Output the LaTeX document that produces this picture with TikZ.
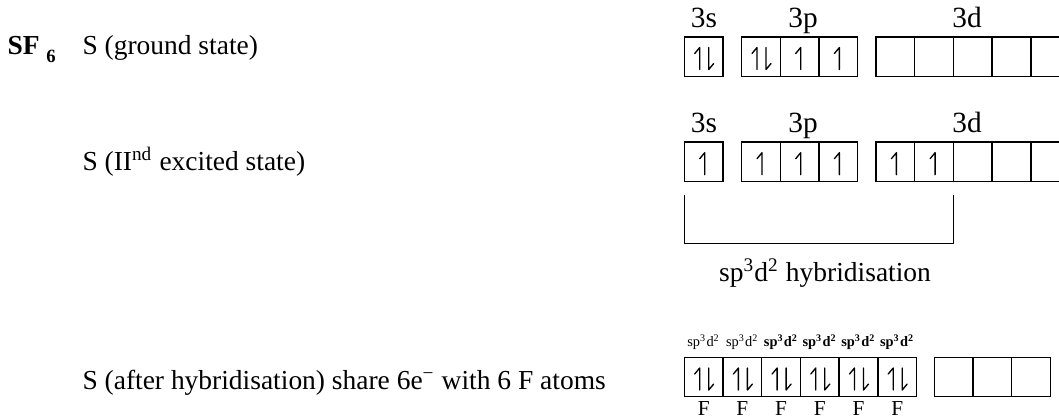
\documentclass[tikz,border=0pt]{standalone}
\usepackage{fontspec}
\setmainfont{Liberation Serif}
\usetikzlibrary{positioning}

\tikzset{
	orb/.style={draw, line width=0.5pt, minimum width=14.5pt, minimum height=14.75pt, inner sep=0pt, outer sep=0pt},
	harp/.style={line width=0.5pt, line cap=round, line join=round},
	shell/.style={anchor=base, inner sep=0pt, font=\fontsize{11}{13}\selectfont},
	txt/.style={anchor=base west, inner sep=0pt, font=\fontsize{10.3}{12}\selectfont},
	hlab/.style={anchor=base, inner sep=0pt, font=\fontsize{5.4}{6}\selectfont},
	flab/.style={anchor=base, inner sep=0pt, font=\fontsize{8}{9}\selectfont},
	uph/.pic={\draw[harp] (0,11) -- (0,-11) -- (-5,-5);},
	dnh/.pic={\draw[harp] (0,-11) -- (0,11) -- (5,5);},
	paired/.pic={\pic at (-4,2) {uph}; \pic at (5,2) {dnh};},
	unpaired/.pic={\pic at (1,2) {uph};}
}

\begin{document}
\begin{tikzpicture}[x=0.375pt, y=-0.375pt]
	\clip (0,0) rectangle (1059,416);
	% left column
	\node[txt] (sf6) at (7,54) {\textbf{SF}\hspace{2.5pt}\raisebox{-3pt}{\fontsize{7}{8}\selectfont\bfseries 6}};
	\node[txt] (gs) at (82,54) {S (ground state)};
	\node[txt] (es) at (82,170) {S (II\textsuperscript{nd} excited state)};
	\node[txt] (hs) at (82,389) {S (after hybridisation) share 6e\textsuperscript{−} with 6 F atoms};

	% ground state
	\node[shell] (s1l) at (704,27) {3s};
	\node[shell] (p1l) at (803,27) {3p};
	\node[shell] (d1l) at (967,27) {3d};
	\node[orb] (s1) at (703.7,56.5) {};
	\foreach \i in {1,2,3} \node[orb] (p1-\i) at ({722.3+38.7*\i},56.5) {};
	\foreach \i in {1,...,5} \node[orb] (d1-\i) at ({856.7+38.7*\i},56.5) {};
	\pic at (s1) {paired};
	\pic at (p1-1) {paired};
	\pic at (p1-2) {unpaired};
	\pic at (p1-3) {unpaired};

	% second excited state
	\node[shell] (s2l) at (704,132) {3s};
	\node[shell] (p2l) at (803,132) {3p};
	\node[shell] (d2l) at (967,132) {3d};
	\node[orb] (s2) at (703.7,161.7) {};
	\foreach \i in {1,2,3} \node[orb] (p2-\i) at ({722.3+38.7*\i},161.7) {};
	\foreach \i in {1,...,5} \node[orb] (d2-\i) at ({856.7+38.7*\i},161.7) {};
	\pic at (s2) {unpaired};
	\foreach \i in {1,2,3} \pic at (p2-\i) {unpaired};
	\pic at (d2-1) {unpaired};
	\pic at (d2-2) {unpaired};
	\draw[line width=0.5pt] ([yshift=-5.1pt]s2.south west) -- ++(0,-18.1pt) -| ([yshift=-5.1pt]d2-2.south east);
	\node[font=\fontsize{10.3}{12}\selectfont, inner sep=0pt] (hyb) at (825,273) {sp\textsuperscript{3}d\textsuperscript{2} hybridisation};

	% after hybridisation
	\foreach \i in {1,...,6} {
		\node[orb] (h\i) at ({665+38.7*\i},377) {};
		\pic at (h\i) {paired};
		\node[hlab] (l\i) at ([yshift=4pt]h\i.north) {\ifnum\i>2 \bfseries\fi sp\textsuperscript{3}d\textsuperscript{2}};
		\node[flab] (f\i) at ([yshift=-7pt]h\i.south) {F};
	}
	\foreach \i in {1,2,3} \node[orb] (e\i) at ({914.9+38.7*\i},377) {};
\end{tikzpicture}
\end{document}
